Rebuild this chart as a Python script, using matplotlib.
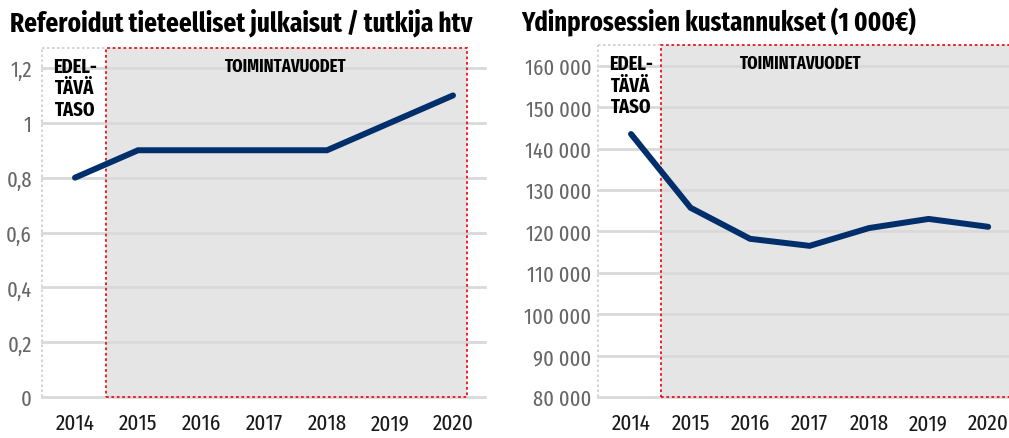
import matplotlib.pyplot as plt
from matplotlib.patches import Rectangle
from matplotlib.ticker import FuncFormatter

years = [2014, 2015, 2016, 2017, 2018, 2019, 2020]
julkaisut = [0.8, 0.9, 0.9, 0.9, 0.9, 1.0, 1.1]
kustannukset = [143500, 125700, 118200, 116500, 120800, 123000, 121100]

title_left = "Referoidut tieteelliset julkaisut / tutkija htv"
title_right = "Ydinprosessien kustannukset (1 000€)"

plt.rcParams['font.family'] = ['Fira Sans Extra Condensed', 'DejaVu Sans']

NAVY = '#002f6c'
GRID = '#d9d9d9'
FILL = '#e5e5e5'
RED = '#e8141c'


def fmt_left(v, pos):
    s = f"{v:.1f}".rstrip('0').rstrip('.')
    return s.replace('.', ',')


def fmt_right(v, pos):
    return f"{int(v):,}".replace(',', ' ')


def draw(ax, values, ylim, yticks, box_right, fmt, ypad):
    x0, x1 = ax.get_xlim()
    ax.set_ylim(*ylim)
    ax.set_yticks(yticks)
    ax.yaxis.set_major_formatter(FuncFormatter(fmt))
    ax.set_xticks(years)
    ax.set_xticklabels([str(y) for y in years])
    for s in ax.spines.values():
        s.set_visible(False)
    ax.tick_params(length=0)
    ax.tick_params(axis='y', colors='#666666', labelsize=16, pad=ypad)
    ax.tick_params(axis='x', colors='#1a1a1a', labelsize=16.5, pad=11)
    # toimintavuodet box
    ax.add_patch(Rectangle((2014.5, ylim[0]), box_right - 2014.5, ylim[1] - ylim[0],
                           facecolor=FILL, edgecolor='none', zorder=0, clip_on=False))
    ax.add_patch(Rectangle((2014.5, ylim[0]), box_right - 2014.5, ylim[1] - ylim[0],
                           facecolor='none', edgecolor=RED, lw=1.3, ls=(0, (1.5, 1.5)),
                           zorder=3, clip_on=False))
    # edeltava taso box
    ax.plot([x0, x0], ylim, color='#cccccc', lw=1.2, ls=(0, (1.5, 1.5)), zorder=1, clip_on=False)
    ax.plot([x0, 2014.5], [ylim[1], ylim[1]], color='#cccccc', lw=1.2, ls=(0, (1.5, 1.5)),
            zorder=1, clip_on=False)
    for t in yticks:
        ax.plot([x0, x1], [t, t], color=GRID, lw=2, zorder=1, clip_on=False)
    ax.plot(years, values, color=NAVY, lw=4.3, solid_capstyle='round',
            solid_joinstyle='miter', zorder=4, clip_on=False)
    top = ylim[1] - (ylim[1] - ylim[0]) * 0.025
    ax.text(2014, top, "EDEL-\nTÄVÄ\nTASO", ha='center', va='top', fontsize=14.5,
            fontweight='bold', linespacing=1.12, zorder=5)
    return top


fig = plt.figure(figsize=(10.09, 4.39), dpi=100)

ax1 = fig.add_axes([41.6 / 1009, 41 / 439, 442.9 / 1009, 349 / 439])
ax1.set_xlim(2013.47, 2020.5)
top1 = draw(ax1, julkaisut, (0, 1.273), [0, 0.2, 0.4, 0.6, 0.8, 1.0, 1.2], 2020.22, fmt_left, 7)
ax1.text(2017.35, top1, "TOIMINTAVUODET", ha='center', va='top', fontsize=13,
         fontweight='bold', zorder=5)

ax2 = fig.add_axes([598.3 / 1009, 41 / 439, 410.7 / 1009, 352 / 439])
ax2.set_xlim(2013.45, 2020.35)
top2 = draw(ax2, kustannukset, (80000, 165000), list(range(80000, 160001, 10000)), 2020.6,
            fmt_right, 5)
ax2.text(2016.85, top2, "TOIMINTAVUODET", ha='center', va='top', fontsize=13,
         fontweight='bold', zorder=5)

fig.text(10 / 1009, 1 - 31 / 439, title_left, fontsize=19.7, fontweight='bold', va='baseline')
fig.text(521 / 1009, 1 - 31 / 439, title_right, fontsize=19.3, fontweight='bold', va='baseline')

fig.savefig('out.png', dpi=100)
